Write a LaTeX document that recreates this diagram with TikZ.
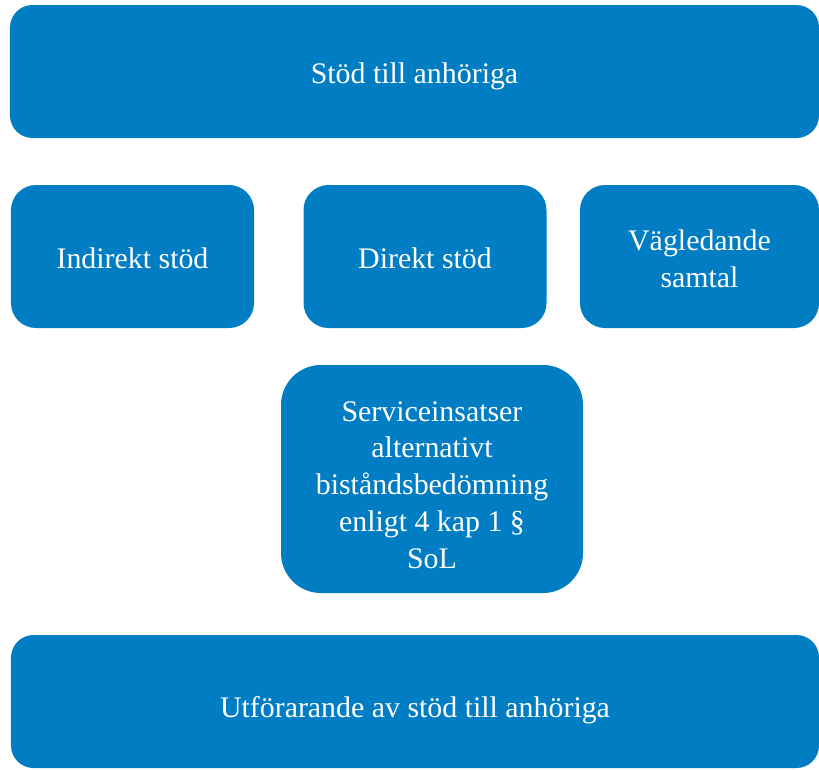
\documentclass[tikz,border=0pt]{standalone}
\usepackage{fontspec}
\setmainfont{Liberation Serif}
\usetikzlibrary{positioning}
\definecolor{box colour}{RGB}{0,125,195}
% Invisible strut that pushes the first text line down
\newcommand{\dropline}[1]{\rule{0pt}{#1}}
\tikzset{
    % Rounded blue boxes with white text
    every node/.style={align=center},
    box/.style={
        rectangle, fill=box colour, text=white, rounded corners=5mm,
        inner sep=1mm, font=\fontsize{17}{21}\selectfont},
    wide box/.style={box, minimum width=161.8mm, minimum height=26.6mm,
        rounded corners=4.5mm},
    small box/.style={box, minimum width=48.6mm, minimum height=28.6mm},
    tall box/.style={box, minimum width=60.4mm, minimum height=45.6mm,
        rounded corners=8mm},
}
\begin{document}
\begin{tikzpicture}[x=1mm, y=1mm]
\useasboundingbox (0,0) rectangle (163.8,-153.8);

\path
    (82.9,-14.3) node [wide box] (support)
        {\dropline{6.1mm}Stöd till anhöriga}
    (26.5,-51.3) node [small box] (indirect)
        {\dropline{4.9mm}Indirekt stöd}
    (85.0,-51.3) node [small box] (direct)
        {\dropline{4.9mm}Direkt stöd}
    (139.9,-51.3) node [small box, minimum width=47.8mm] (guidance)
        {\dropline{4.9mm}Vägledande\\samtal}
    (86.4,-95.8) node [tall box] (service)
        {\dropline{6.4mm}Serviceinsatser\\alternativt\\biståndsbedömning\\enligt 4 kap 1 §\\SoL}
    (83.0,-140.3) node [wide box, minimum width=161.6mm] (provision)
        {\dropline{7.7mm}Utförarande av stöd till anhöriga};

\end{tikzpicture}
\end{document}
